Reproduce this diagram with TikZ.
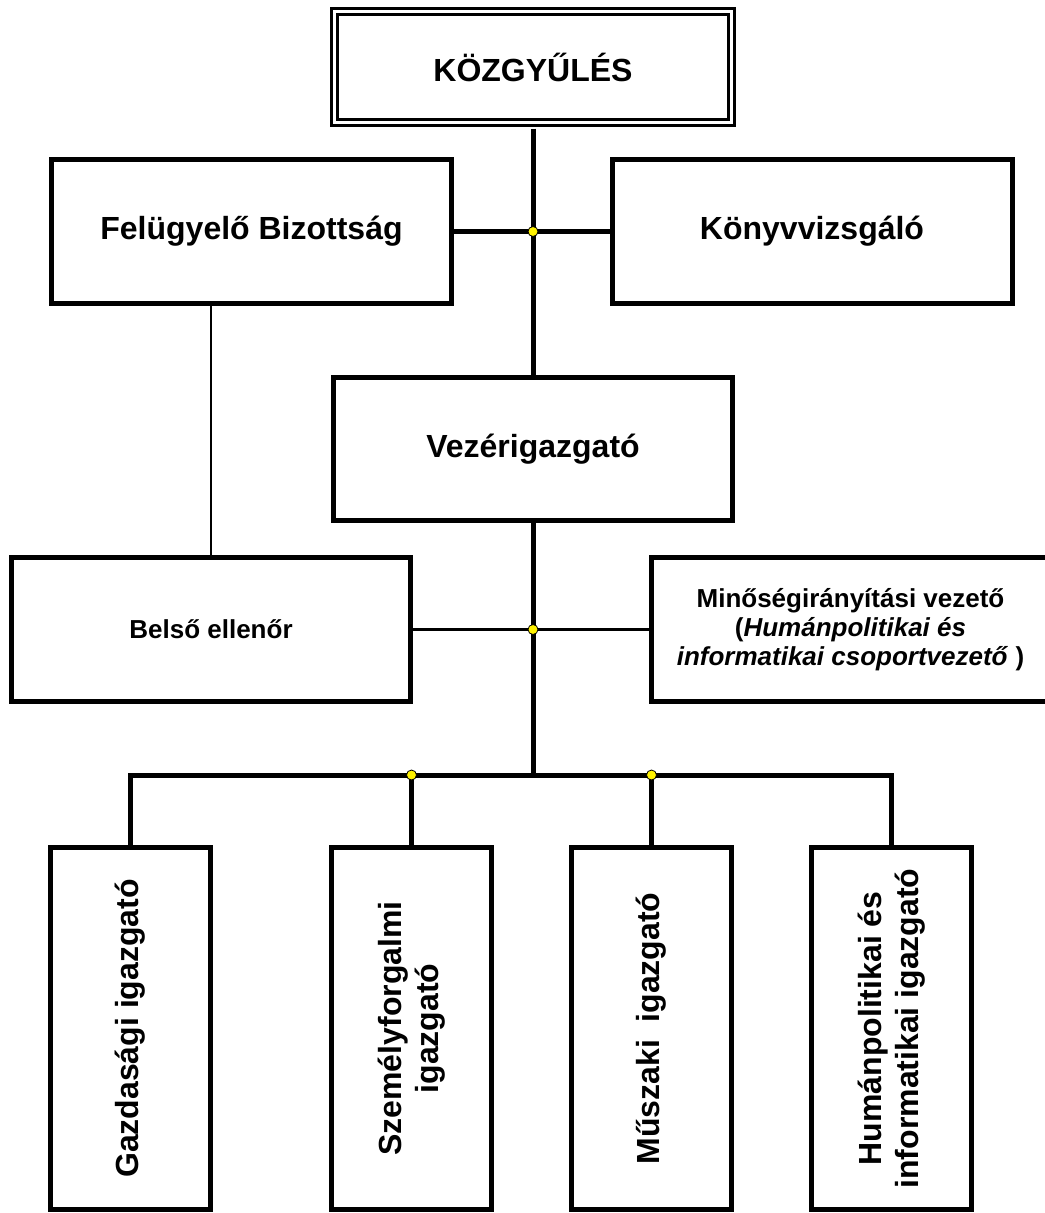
\documentclass[tikz,border=0pt]{standalone}
\usepackage{fontspec}
\setmainfont{Liberation Sans}

\begin{document}
\begin{tikzpicture}[x=0.75pt,y=-0.75pt,
    box/.style={draw, line width=3.75pt, inner sep=0pt, align=center,
                font=\bfseries\fontsize{24}{28}\selectfont},
    smallbox/.style={box, font=\bfseries\fontsize{19.5}{21.75}\selectfont},
    tallbox/.style={box, minimum width=120pt, minimum height=271.5pt},
    vtext/.style={rotate=90, align=center, font=\bfseries\fontsize{24}{27.75}\selectfont},
    thickline/.style={line width=3.75pt},
    thinline/.style={line width=2pt},
    jdot/.style={circle, draw, fill=yellow, line width=0.6pt, inner sep=0pt, minimum size=7.5pt}]
  \useasboundingbox (0,0) rectangle (1045,1213);

  % upper level
  \node[box, double, line width=2.25pt, double distance=1.9pt,
        minimum width=298.1pt, minimum height=83.6pt] (kg) at (533,67) {KÖZGYŰLÉS};
  \node[box, minimum width=300pt, minimum height=108pt] (fb) at (251.5,231.5) {Felügyelő Bizottság};
  \node[box, minimum width=300pt, minimum height=108pt] (kv) at (812,231.5) {Könyvvizsgáló};
  \node[box, minimum width=299.25pt, minimum height=107.25pt] (vi) at (533,449) {Vezérigazgató};

  % staff level
  \node[smallbox, minimum width=299.25pt, minimum height=108pt] (be) at (211,629.5) {Belső ellenőr};
  \node[smallbox, minimum width=299.25pt, minimum height=108pt] (mv) at (850.5,629.5)
        {Minőségirányítási vezető\\(\textit{Humánpolitikai és}\\\textit{informatikai csoportvezető} )};

  % directors
  \node[tallbox] (gi) at (130.5,1028.5) {};
  \node[tallbox] (si) at (411.5,1028.5) {};
  \node[tallbox] (mi) at (651.5,1028.5) {};
  \node[tallbox] (hi) at (891.5,1028.5) {};
  \node[vtext] (gt) at (gi) {Gazdasági igazgató};
  \node[vtext] (st) at (si) {Személyforgalmi\\igazgató};
  \node[vtext] (mt) at (mi) {Műszaki~~igazgató};
  \node[vtext] (ht) at (hi) {Humánpolitikai és\\informatikai igazgató};

  \coordinate (bus) at (533,775);

  % connectors
  \draw[thickline] ([yshift=-3.2pt]kg.south) -- (vi.north);
  \draw[thickline] (fb.east) -- (kv.west);
  \draw[thinline] (be.north) -- (be.north |- fb.south);
  \draw[thinline] (be.east) -- (mv.west);
  \draw[thickline] (vi.south) -- (bus);
  \draw[thickline] (gi.north) |- (bus) -| (hi.north);
  \draw[thickline] (si.north) -- (si.north |- bus);
  \draw[thickline] (mi.north) -- (mi.north |- bus);

  % junctions
  \node[jdot] (d1) at (fb.east -| kg.south) {};
  \node[jdot] (d2) at (be.east -| kg.south) {};
  \node[jdot] (d3) at (si.north |- bus) {};
  \node[jdot] (d4) at (mi.north |- bus) {};
\end{tikzpicture}
\end{document}
